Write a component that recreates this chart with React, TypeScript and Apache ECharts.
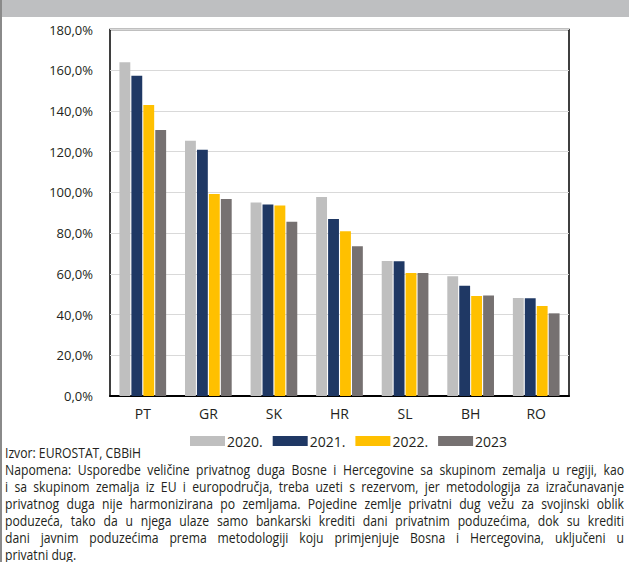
import React, { useEffect, useRef } from "react";
import * as echarts from "echarts";

// Private debt as share of GDP, by country and year
const countries = ["PT", "GR", "SK", "HR", "SL", "BH", "RO"];
const years = ["2020.", "2021.", "2022.", "2023"];
const debt2020 = [163.9, 125.4, 95.0, 97.7, 66.3, 58.8, 48.1];
const debt2021 = [157.3, 121.0, 94.1, 86.9, 66.2, 54.2, 48.0];
const debt2022 = [142.9, 99.2, 93.6, 80.9, 60.4, 49.1, 44.2];
const debt2023 = [130.6, 96.8, 85.6, 73.5, 60.4, 49.3, 40.6];
const yearColors = ["#BFBFBF", "#1F3864", "#FFC000", "#767171"];

const sourceLine = "Izvor: EUROSTAT, CBBiH";
const noteLines = [
  "Napomena:  Usporedbe veličine privatnog duga Bosne i Hercegovine sa skupinom zemalja u regiji, kao",
  "i sa skupinom zemalja iz EU i europodručja, treba uzeti s rezervom, jer metodologija za izračunavanje",
  "privatnog duga nije harmonizirana po zemljama. Pojedine zemlje privatni dug vežu za svojinski oblik",
  "poduzeća, tako da u njega ulaze samo bankarski krediti dani privatnim poduzećima, dok su krediti",
  "dani javnim poduzećima prema metodologiji koju primjenjuje Bosna i Hercegovina, uključeni u",
  "privatni dug.",
];

const W = 629;
const H = 562;
// Notes are set in a narrowed face: Open Sans squeezed horizontally
const NOTE_SCALE = 0.84;
const NOTE_WIDTH = 619;

export default function App() {
  const ref = useRef<HTMLDivElement>(null);

  useEffect(() => {
    if (!ref.current) return;
    const chart = echarts.init(ref.current, null, { renderer: "svg" });
    const seriesData = [debt2020, debt2021, debt2022, debt2023];
    chart.setOption({
      animation: false,
      backgroundColor: "#ffffff",
      grid: {
        left: 110,
        right: 60,
        top: 29.5,
        bottom: 166,
        show: true,
        borderColor: "#000000",
        borderWidth: 1.5,
      },
      legend: {
        data: years,
        left: 185,
        top: 429,
        itemWidth: 35,
        itemHeight: 10,
        itemGap: 10,
        icon: "rect",
        textStyle: {
          fontFamily: "Open Sans",
          fontSize: 14,
          color: "#231F20",
          padding: [0, 0, 0, -3],
        },
      },
      xAxis: {
        type: "category",
        data: countries,
        axisLine: { lineStyle: { color: "#000000", width: 2 } },
        axisTick: { show: false },
        axisLabel: {
          margin: 10,
          fontFamily: "Open Sans",
          fontSize: 14,
          color: "#231F20",
        },
      },
      yAxis: {
        type: "value",
        min: 0,
        max: 180,
        interval: 20,
        axisLine: { show: false },
        axisTick: { show: false },
        splitLine: { lineStyle: { color: "#D9D9D9", width: 1 } },
        axisLabel: {
          margin: 17,
          fontFamily: "Open Sans",
          fontSize: 13,
          color: "#231F20",
          formatter: (v: number) => v.toFixed(1).replace(".", ",") + "%",
        },
      },
      series: years.map((name, i) => ({
        name,
        type: "bar",
        data: seriesData[i],
        barGap: "10%",
        barCategoryGap: "28.8%",
        itemStyle: { color: yearColors[i] },
      })),
      graphic: [
        {
          type: "rect",
          shape: { x: 0, y: 0, width: W, height: 17 },
          style: { fill: "#BEBFC1" },
          silent: true,
        },
        {
          type: "rect",
          shape: { x: 0, y: 0, width: 2, height: H },
          style: { fill: "#8A8A8A" },
          silent: true,
        },
      ],
    });
    return () => chart.dispose();
  }, []);

  const lineStyle: React.CSSProperties = {
    height: 17,
    lineHeight: "17px",
    whiteSpace: "nowrap",
  };

  return (
    <div
      style={{
        position: "fixed",
        left: 0,
        top: 0,
        width: W,
        height: H,
        overflow: "hidden",
        background: "#ffffff",
      }}
    >
      <div ref={ref} style={{ position: "absolute", left: 0, top: 0, width: W, height: H }} />
      <div
        style={{
          position: "absolute",
          left: 5,
          top: 444,
          width: NOTE_WIDTH / NOTE_SCALE,
          transform: `scaleX(${NOTE_SCALE})`,
          transformOrigin: "0 0",
          fontFamily: '"Open Sans", sans-serif',
          fontSize: 14.5,
          color: "#231F20",
        }}
      >
        <div style={{ ...lineStyle, textAlign: "left" }}>{sourceLine}</div>
        {noteLines.map((t, i) => {
          const last = i === noteLines.length - 1;
          return (
            <div
              key={i}
              style={{
                ...lineStyle,
                textAlign: last ? "left" : "justify",
                textAlignLast: last ? "left" : "justify",
              }}
            >
              {t}
            </div>
          );
        })}
      </div>
    </div>
  );
}
